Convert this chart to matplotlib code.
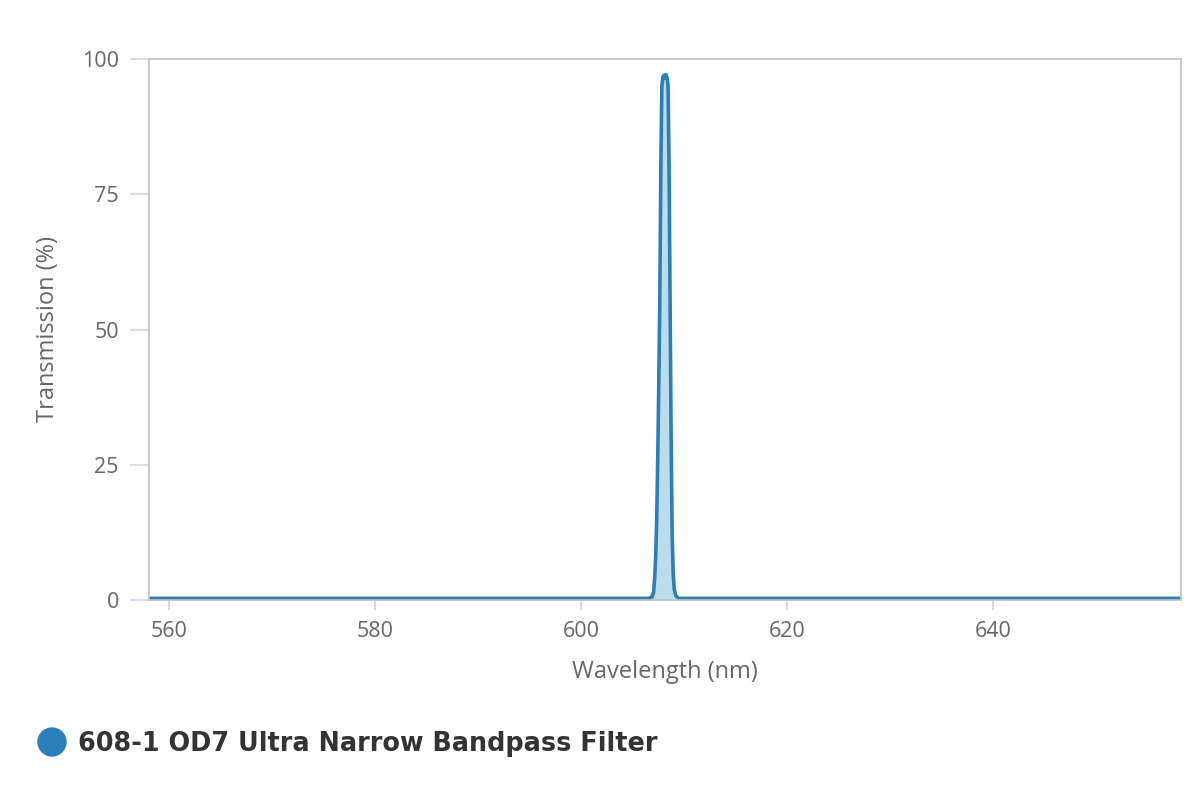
import matplotlib
matplotlib.use("Agg")
import matplotlib.pyplot as plt
from matplotlib.patches import Ellipse

# transmission curve
wavelength = [558.0, 606.6, 606.9, 607.05, 607.15, 607.25, 607.35, 607.45, 607.55, 607.65,
              607.75, 607.85, 607.95, 608.05, 608.15, 608.25, 608.35, 608.45, 608.55, 608.65,
              608.75, 608.85, 608.95, 609.05, 609.2, 609.5, 658.25]
transmission = [0.3, 0.3, 0.6, 1.5, 4.0, 8.0, 15.0, 26.0, 40.0, 55.0,
                80.0, 95.0, 96.6, 97.0, 96.5, 97.1, 96.6, 95.0, 80.0, 55.0,
                30.0, 12.0, 5.0, 2.0, 0.8, 0.3, 0.3]

x_ticks = [560, 580, 600, 620, 640]
y_ticks = [0, 25, 50, 75, 100]
series_name = "608-1 OD7 Ultra Narrow Bandpass Filter"

line_color = "#2b7fb8"
fill_color = "#bcdcec"
tick_color = "#ccd6eb"
text_color = "#666666"

plt.rcParams['font.family'] = ['Open Sans', 'DejaVu Sans']

fig = plt.figure(figsize=(12, 8), dpi=100)
ax = fig.add_axes([149 / 1200, 200 / 800, 1032 / 1200, 541 / 800])

ax.fill_between(wavelength, transmission, 0, color=fill_color, linewidth=0)
ax.plot(wavelength, transmission, color=line_color, linewidth=2.6, solid_joinstyle="round")

ax.set_xlim(558.06, 658.25)
ax.set_ylim(0, 100)
ax.set_xticks(x_ticks)
ax.set_yticks(y_ticks)

for side in ax.spines.values():
    side.set_color("#c0c0c0")
    side.set_linewidth(1.2)

ax.tick_params(axis="x", direction="out", length=7.2, width=1.2, color=tick_color,
               labelsize=15.5, labelcolor=text_color, pad=8)
ax.tick_params(axis="y", direction="out", length=13.7, width=1.2, color=tick_color,
               labelsize=15.5, labelcolor=text_color, pad=8)

ax.set_xlabel("Wavelength (nm)", fontsize=17, color=text_color, labelpad=13)
ax.set_ylabel("Transmission (%)", fontsize=17, color=text_color, labelpad=16)

# legend: circle marker and bold series name
fig.patches.append(Ellipse((52 / 1200, 1 - 742 / 800), 28 / 1200, 28 / 800,
                           transform=fig.transFigure, color=line_color))
fig.text(78 / 1200, 1 - 744 / 800, series_name, fontsize=18.4, fontweight="bold",
         color="#333333", va="center", ha="left", family=["DejaVu Sans"])

fig.savefig("out.png", dpi=100)
